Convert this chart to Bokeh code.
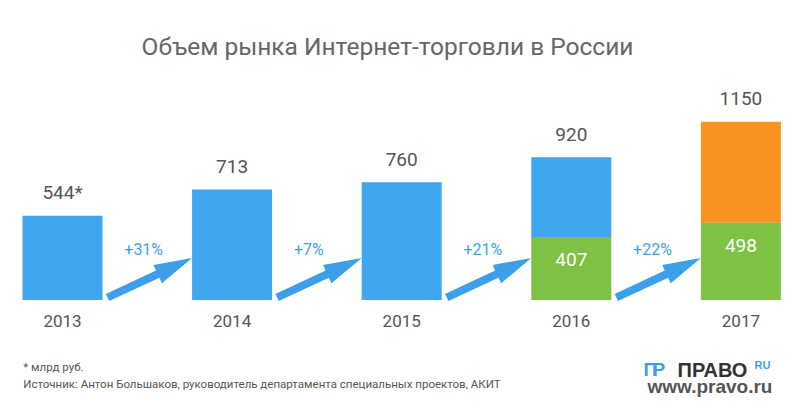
from bokeh.plotting import figure
from bokeh.models import Range1d, Label
from bokeh.core.properties import value
from bokeh.embed import file_html
from bokeh.resources import INLINE
import math

# ---- data ----
years = ["2013", "2014", "2015", "2016", "2017"]
totals = [544, 713, 760, 920, 1150]
total_labels = ["544*", "713", "760", "920", "1150"]
green_part = [None, None, None, 407, 498]
growth = ["+31%", "+7%", "+21%", "+22%"]
title = "Объем рынка Интернет-торговли в России"
note = "* млрд руб."
source_txt = "Источник: Антон Большаков, руководитель департамента специальных проектов, АКИТ"

# ---- layout constants ----
W, H = 790, 402
SPACING = 169.6          # px between bar centres
C0 = 62.0                # px of first bar centre
BAR_W_PX = 80.0
BASE_PX = 102.5          # baseline, px from bottom
UPP = 6.45               # value units per px

BLUE = "#3fa6f0"
GREEN = "#7dc243"
ORANGE = "#f7931e"
ARROW = "#3c9fea"
TXT = "#555555"
FNAME = "Roboto"
FONT = value(FNAME)

p = figure(width=W, height=H, output_backend="svg", toolbar_location=None,
           x_range=Range1d(-C0 / SPACING, (W - C0) / SPACING),
           y_range=Range1d(-BASE_PX * UPP, (H - BASE_PX) * UPP),
           min_border=0, background_fill_color="white", border_fill_color="white")
p.extra_x_ranges = {"px": Range1d(0, W)}
p.extra_y_ranges = {"px": Range1d(0, H)}
p.xaxis.visible = False
p.yaxis.visible = False
p.grid.visible = False
p.outline_line_color = None

xs = list(range(len(years)))
bw = BAR_W_PX / SPACING

# upper / full segments
bottoms = [g if g is not None else 0 for g in green_part]
colors = [BLUE, BLUE, BLUE, BLUE, ORANGE]
p.vbar(x=xs, bottom=bottoms, top=totals, width=bw, fill_color=colors, line_color=None)

# green segments
gx = [x for x, g in zip(xs, green_part) if g is not None]
gv = [g for g in green_part if g is not None]
p.vbar(x=gx, bottom=0, top=gv, width=bw, fill_color=GREEN, line_color=None)

# value labels
p.text(x=xs, y=totals, text=total_labels, text_align="center", text_baseline="middle",
       y_offset=-23, text_font=FONT, text_font_size="19px", text_color=TXT)
# year labels
p.text(x=xs, y=[0] * len(xs), text=years, text_align="center", text_baseline="middle",
       y_offset=20.5, text_font=FONT, text_font_size="17px", text_color=TXT)
# inner green labels
p.text(x=gx, y=gv, text=[str(g) for g in gv], text_align="center", text_baseline="middle",
       y_offset=23, text_font=FONT, text_font_size="19px", text_color="white")
# growth labels
gxs = [i + 0.5 for i in range(len(growth))]
p.text(x=gxs, y=[0] * len(growth), text=growth, text_align="left", text_baseline="middle",
       x_offset=-23, y_offset=-51, text_font=FONT, text_font_size="16px", text_color=ARROW)

# arrows (polygons in pixel space derived from bar positions)
axs, ays = [], []
for i in range(len(growth)):
    tail = (C0 + SPACING * i + BAR_W_PX / 2 + 5, BASE_PX + 2.5)
    tip = (C0 + SPACING * (i + 1) - BAR_W_PX / 2, BASE_PX + 42)
    dx, dy = tip[0] - tail[0], tip[1] - tail[1]
    L = math.hypot(dx, dy)
    ux, uy = dx / L, dy / L
    nx, ny = -uy, ux
    hl, hw, sw = 38, 10, 4
    bx, by = tip[0] - ux * hl, tip[1] - uy * hl
    pts = [(tail[0] + nx * sw, tail[1] + ny * sw),
           (bx + nx * sw, by + ny * sw),
           (bx + nx * hw, by + ny * hw),
           tip,
           (bx - nx * hw, by - ny * hw),
           (bx - nx * sw, by - ny * sw),
           (tail[0] - nx * sw, tail[1] - ny * sw)]
    axs.append([q[0] for q in pts])
    ays.append([q[1] for q in pts])
p.patches(xs=axs, ys=ays, fill_color=ARROW, line_color=None,
          x_range_name="px", y_range_name="px")


def lab(x, y, text, size, color, bold=False, align="left", font=FNAME):
    p.add_layout(Label(x=x, y=y, x_units="screen", y_units="screen", text=text,
                       text_align=align, text_baseline="middle", text_font=font,
                       text_font_style="bold" if bold else "normal",
                       text_font_size=size, text_color=color))


# title
lab(387, H - 46, title, "24.5px", "#666666", align="center")
# footer
lab(22.7, H - 366.5, note, "11.5px", TXT)
lab(22.7, H - 383.5, source_txt, "11.5px", TXT)
# logo
lab(643, H - 369, "П", "19px", ARROW, bold=True, font="Liberation Sans")
lab(652, H - 369, "Р", "19px", ARROW, bold=True, font="Liberation Sans")
lab(677, H - 369, "ПРАВО", "20px", "#333333", bold=True, font="Liberation Sans")
lab(754, H - 364.5, "RU", "11px", ARROW, bold=True, font="Liberation Sans")
lab(647, H - 386, "www.pravo.ru", "19px", "#555555", bold=True, font="Liberation Sans")

open("out.html", "w").write(file_html(p, INLINE))
